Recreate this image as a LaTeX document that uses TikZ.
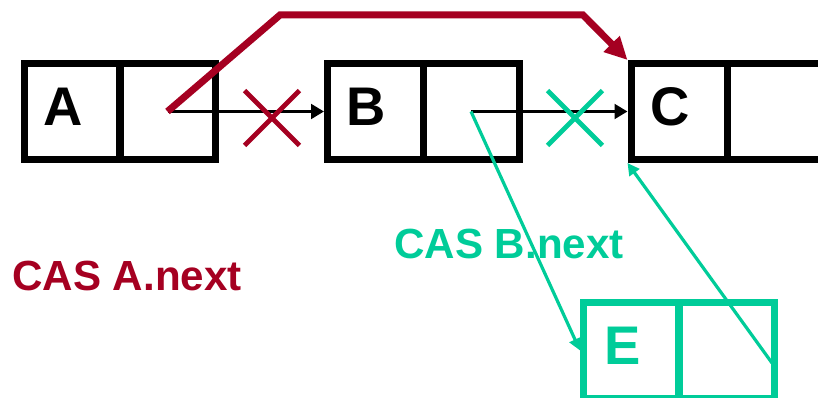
\documentclass[tikz,border=0pt]{standalone}
\usepackage{fontspec}
\setmainfont{Liberation Sans}
\usetikzlibrary{arrows.meta,shapes.misc}
\definecolor{casred}{RGB}{165,0,33}
\definecolor{casgreen}{RGB}{0,204,153}
\tikzset{
  cell/.style={draw, minimum size=72pt, inner sep=0pt, line width=5.25pt},
  letter/.style={font=\fontsize{40.8}{45}\selectfont\bfseries, xshift=-7pt, yshift=3.75pt, inner sep=0pt},
  key/.style={cell, label={[letter]center:#1}},
  ptr/.style={line width=2.25pt, -{Triangle[length=9.75pt,width=11pt]}},
  nix/.style={cross out, draw, line width=3.6pt, minimum size=37.5pt, inner sep=0pt},
  casA/.style={casred, line width=5.25pt, -{Triangle[length=17pt,width=16pt]}},
  casB/.style={casgreen, line width=2.4pt, -{Triangle[length=9pt,width=9pt]}},
  lab/.style={font=\fontsize{31.6}{36}\selectfont\bfseries, anchor=base west, inner sep=0pt}
}
\begin{document}
\begin{tikzpicture}[x=0.75pt, y=-0.75pt]
  \useasboundingbox (0,0) rectangle (818,398);
  % list A -> B -> C
  \node[key=A] (A) at (72,111.5) {};
  \node[cell] (An) at (167.5,111.5) {};
  \node[key=B] (B) at (375.5,111.5) {};
  \node[cell] (Bn) at (471,111.5) {};
  \node[key=C] (C) at (679,111.5) {};
  \node[cell] (Cn) at (775,111.5) {};
  % new node E
  \node[cell, draw=casgreen, label={[letter, text=casgreen]center:E}] (E) at (631.5,350.5) {};
  \node[cell, draw=casgreen] (En) at (726.5,350.5) {};

  % old pointers, both crossed out
  \draw[ptr] (An.center) -- (B.west);
  \draw[ptr] (Bn.center) -- (C.west);
  \node[nix, casred] (xA) at (272,118) {};
  \node[nix, casgreen] (xB) at (575,118) {};

  % CAS A.next
  \coordinate (upL) at (280,15);
  \coordinate (upR) at (583,15);
  \draw[casA] (An.center) -- (upL) -- (upR) -- (C.north west);
  \node[lab, casred] (labA) at (12,291) {CAS A.next};

  % CAS B.next
  \coordinate (Eptr) at (772,363);
  \draw[casB] (Bn.center) -- (E.west);
  \draw[casB] (Eptr) -- (C.south west);
  \node[lab, casgreen] (labB) at (394,259) {CAS B.next};
\end{tikzpicture}
\end{document}
